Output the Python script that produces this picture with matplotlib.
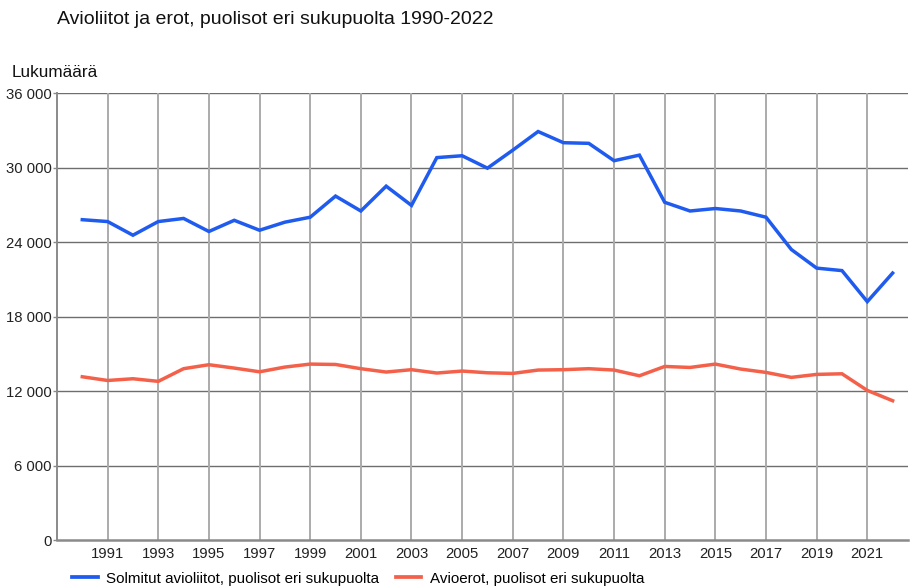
import matplotlib.pyplot as plt
from matplotlib.lines import Line2D
from matplotlib.ticker import FuncFormatter

plt.rcParams['font.family'] = ['Liberation Sans', 'DejaVu Sans']

# data
years = list(range(1990, 2023))
solmitut = [25800, 25650, 24550, 25650, 25900, 24850, 25750, 24950, 25600, 26000,
            27700, 26500, 28500, 26950, 30800, 30950, 29950, 31400, 32900, 32000,
            31950, 30550, 31000, 27200, 26500, 26700, 26500, 26000, 23400, 21900,
            21700, 19200, 21500]
avioerot = [13150, 12850, 12990, 12780, 13800, 14120, 13850, 13550, 13930, 14170,
            14140, 13800, 13530, 13720, 13450, 13610, 13470, 13420, 13690, 13720,
            13800, 13690, 13230, 13980, 13900, 14170, 13770, 13500, 13100, 13340,
            13390, 12050, 11220]
x_ticks = list(range(1991, 2023, 2))
y_ticks = [0, 6000, 12000, 18000, 24000, 30000, 36000]

blue = '#1f5bef'
red = '#f4614b'

fig = plt.figure(figsize=(9.1, 5.87), dpi=100)
ax = fig.add_axes([0.0626, 0.080, 0.935, 0.7615])

ax.plot(years, solmitut, color=blue, lw=2.5, solid_joinstyle='miter')
ax.plot(years, avioerot, color=red, lw=2.5, solid_joinstyle='miter')

ax.set_xlim(1989, 2022.6)
ax.set_ylim(0, 36000)
ax.set_xticks(x_ticks)
ax.set_yticks(y_ticks)
ax.yaxis.set_major_formatter(FuncFormatter(lambda v, p: f'{int(v):,}'.replace(',', ' ')))

for y in y_ticks[1:]:
    ax.axhline(y, color='#6e6e6e', lw=1.0, zorder=0)
for x in x_ticks:
    ax.axvline(x, color='#ababab', lw=1.4, zorder=0)

for s in ['top', 'right']:
    ax.spines[s].set_visible(False)
ax.spines['left'].set_color('#8a8a8a')
ax.spines['left'].set_linewidth(1.4)
ax.spines['bottom'].set_color('#8a8a8a')
ax.spines['bottom'].set_linewidth(1.8)

ax.tick_params(axis='x', length=0, pad=5, labelsize=10.7, labelcolor='#222222')
ax.tick_params(axis='y', length=3, width=1, color='#8a8a8a', pad=1, labelsize=10.7, labelcolor='#222222')

fig.text(0.0626, 0.967, 'Avioliitot ja erot, puolisot eri sukupuolta 1990-2022',
         fontsize=14, color='#111111', ha='left', va='center')
fig.text(0.013, 0.877, 'Lukumäärä', fontsize=12.3, color='#111111', ha='left', va='center')

handles = [Line2D([], [], color=blue, lw=2.7), Line2D([], [], color=red, lw=2.7)]
labels = ['Solmitut avioliitot, puolisot eri sukupuolta', 'Avioerot, puolisot eri sukupuolta']
fig.legend(handles, labels, loc='center left', bbox_to_anchor=(0.079, 0.014), ncol=2,
           frameon=False, fontsize=10.9, handlelength=1.7, handletextpad=0.55,
           columnspacing=1.1, borderaxespad=0, borderpad=0)

fig.savefig('out.png', dpi=100)
